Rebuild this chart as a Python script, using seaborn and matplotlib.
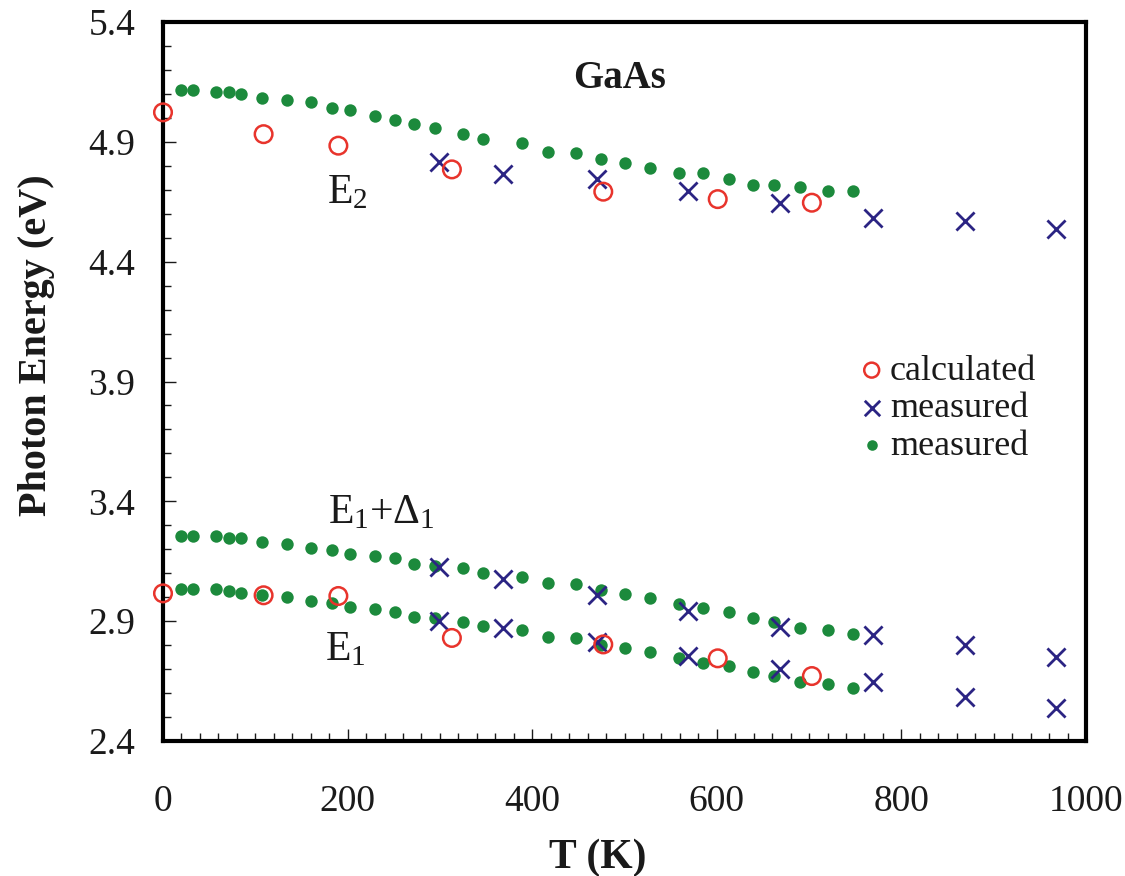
import matplotlib
matplotlib.use('Agg')
import matplotlib.pyplot as plt
from matplotlib.ticker import MultipleLocator
import seaborn as sns

# green dots: same temperatures for the three transitions
t_dots = [20, 33, 57, 72, 85, 107, 134, 160, 183, 203, 230, 251, 272, 295, 325,
          347, 389, 417, 447, 475, 501, 528, 559, 585, 613, 639, 662, 690, 721, 748]
e2_dots = [5.116, 5.116, 5.108, 5.108, 5.100, 5.083, 5.074, 5.066, 5.041, 5.032,
           5.009, 4.992, 4.975, 4.957, 4.934, 4.910, 4.894, 4.859, 4.852, 4.827,
           4.810, 4.792, 4.771, 4.768, 4.743, 4.718, 4.718, 4.710, 4.695, 4.695]
e1d1_dots = [3.255, 3.255, 3.255, 3.246, 3.246, 3.230, 3.222, 3.206, 3.197, 3.181,
             3.172, 3.162, 3.138, 3.130, 3.123, 3.099, 3.085, 3.060, 3.054, 3.030,
             3.013, 2.995, 2.972, 2.954, 2.939, 2.912, 2.898, 2.870, 2.862, 2.848]
e1_dots = [3.035, 3.035, 3.035, 3.027, 3.019, 3.008, 3.002, 2.985, 2.974, 2.960,
           2.952, 2.937, 2.919, 2.912, 2.895, 2.879, 2.863, 2.835, 2.828, 2.800,
           2.787, 2.770, 2.748, 2.727, 2.713, 2.687, 2.671, 2.647, 2.638, 2.622]

# crosses (measured)
t_meas = [299, 368, 470, 569, 668, 769, 869, 968]
e2_meas = [4.814, 4.765, 4.743, 4.695, 4.643, 4.584, 4.569, 4.535]
e1d1_meas = [3.125, 3.076, 3.009, 2.942, 2.874, 2.841, 2.800, 2.752]
e1_meas = [2.901, 2.870, 2.814, 2.755, 2.699, 2.645, 2.585, 2.539]

# open circles (calculated)
t_calc = [0, 109, 190, 313, 477, 601, 703]
e2_calc = [5.023, 4.932, 4.884, 4.785, 4.692, 4.661, 4.646]
e1_calc = [3.016, 3.008, 3.005, 2.830, 2.803, 2.745, 2.671]

y_ticks = [2.4, 2.9, 3.4, 3.9, 4.4, 4.9, 5.4]
x_ticks = [0, 200, 400, 600, 800, 1000]

red = '#e8342c'
navy = '#2b2483'
green = '#1c8a3c'
ink = '#1a1a1a'

sns.set_style('white')
plt.rcParams['font.family'] = ['Liberation Serif', 'DejaVu Serif']
plt.rcParams['mathtext.fontset'] = 'custom'
plt.rcParams['mathtext.rm'] = 'Liberation Serif'
plt.rcParams['mathtext.it'] = 'Liberation Serif:italic'

fig = plt.figure(figsize=(11.25, 8.76), dpi=100)
ax = fig.add_axes([163/1125, 1 - 741/876, 923/1125, 719/876])

# green dots
for i, e in enumerate([e2_dots, e1d1_dots, e1_dots]):
    sns.scatterplot(x=t_dots, y=e, ax=ax, color=green, s=80, linewidth=0,
                    label='measured ' if i == 0 else None, zorder=3)
# crosses
for i, e in enumerate([e2_meas, e1d1_meas, e1_meas]):
    sns.scatterplot(x=t_meas, y=e, ax=ax, marker='x', color=navy, s=170, linewidth=2,
                    label='measured' if i == 0 else None, zorder=4)
# circles
for i, e in enumerate([e2_calc, e1_calc]):
    sns.scatterplot(x=t_calc, y=e, ax=ax, color='none', edgecolor=red, s=160, linewidth=1.8,
                    label='calculated' if i == 0 else None, zorder=5, clip_on=False)

ax.set_xlim(0, 1000)
ax.set_ylim(2.4, 5.4)
ax.set_xticks(x_ticks)
ax.set_yticks(y_ticks)
ax.set_yticklabels([f'{v:.1f}' for v in y_ticks])
ax.xaxis.set_minor_locator(MultipleLocator(20))
ax.yaxis.set_minor_locator(MultipleLocator(0.1))
ax.tick_params(which='both', direction='in', bottom=True, left=True, top=False, right=False,
               colors=ink, width=1)
ax.tick_params(which='major', length=9, labelsize=27)
ax.tick_params(which='minor', length=6)
ax.tick_params(axis='x', pad=31)
ax.tick_params(axis='y', pad=20)
for sp in ax.spines.values():
    sp.set_linewidth(3)
    sp.set_color('black')

ax.set_xlabel('T (K)', fontsize=30, fontweight='bold', color=ink)
ax.set_ylabel('Photon Energy (eV)', fontsize=29, fontweight='bold', color=ink)
ax.xaxis.set_label_coords(0.471, -0.135)
ax.yaxis.set_label_coords(-0.117, 0.55)

ax.text(495, 5.124, 'GaAs', fontsize=28, fontweight='bold', ha='center', va='baseline', color=ink)
ax.text(178, 4.645, r'E$_{\mathrm{2}}$', fontsize=30, ha='left', va='baseline', color=ink)
ax.text(179, 3.309, r'E$_{\mathrm{1}}$+Δ$_{\mathrm{1}}$', fontsize=30, ha='left', va='baseline', color=ink)
ax.text(176, 2.738, r'E$_{\mathrm{1}}$', fontsize=30, ha='left', va='baseline', color=ink)

handles, labels = ax.get_legend_handles_labels()
order = [labels.index('calculated'), labels.index('measured'), labels.index('measured ')]
leg = ax.legend([handles[k] for k in order], ['calculated', 'measured', 'measured'],
                loc='upper left', bbox_to_anchor=(0.715, 0.583), frameon=False,
                fontsize=26, handletextpad=0.05, labelspacing=0.12, handlelength=0.9,
                markerscale=0.85)
for txt in leg.get_texts():
    txt.set_color(ink)

fig.savefig('out.png', dpi=100)
